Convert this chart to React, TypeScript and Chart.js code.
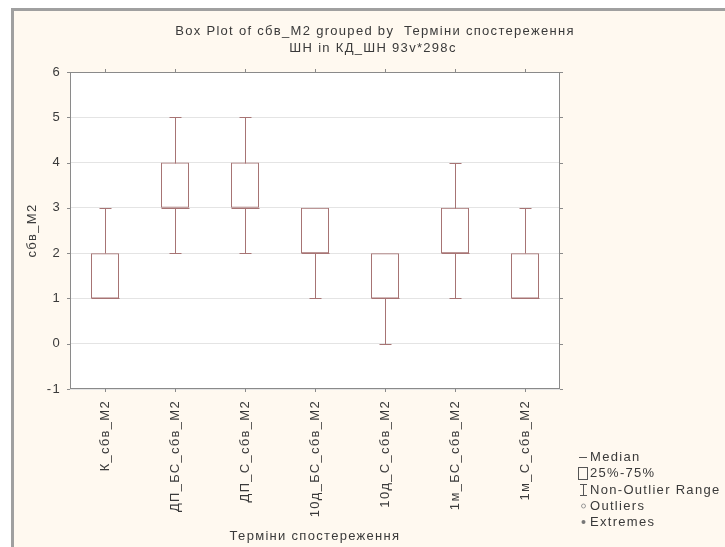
import React, { useEffect, useRef } from "react";
import { Chart, registerables } from "chart.js";

Chart.register(...registerables);

const categories = [
  "К_сбв_М2",
  "ДП_БС_сбв_М2",
  "ДП_С_сбв_М2",
  "10д_БС_сбв_М2",
  "10д_С_сбв_М2",
  "1м_БС_сбв_М2",
  "1м_С_сбв_М2",
];
const q1Values = [1, 3, 3, 2, 1, 2, 1];
const q3Values = [2, 4, 4, 3, 2, 3, 2];
const medianValues = [1, 3, 3, 2, 1, 2, 1];
const minValues = [1, 2, 2, 1, 0, 1, 1];
const maxValues = [3, 5, 5, 3, 2, 4, 3];

const titleLines = ["Box Plot of сбв_М2 grouped by  Терміни спостереження", "ШН in КД_ШН 93v*298c"];
const xTitle = "Терміни спостереження";
const yTitle = "сбв_М2";
const legendItems = ["Median", "25%-75%", "Non-Outlier Range", "Outliers", "Extremes"];

const FONT = "'Liberation Sans', Arial, sans-serif";
const FS = 13;
const SPACING = "1.3px";
const TEXT = "#3a3a3a";
const BOX = "#a77474";

const decorPlugin = {
  id: "decor",
  beforeDraw(chart: any) {
    const ctx = chart.ctx;
    const { width, height, chartArea } = chart;
    ctx.letterSpacing = SPACING;
    ctx.save();
    ctx.fillStyle = "#ffffff";
    ctx.fillRect(0, 0, width, height);
    ctx.fillStyle = "#fff9f0";
    ctx.fillRect(11, 8, width - 11, height - 8);
    ctx.fillStyle = "#a0a0a0";
    ctx.fillRect(11, 8, 3, height - 8);
    ctx.fillRect(11, 8, width - 11, 3);
    ctx.fillStyle = "#ffffff";
    ctx.fillRect(chartArea.left, chartArea.top, chartArea.right - chartArea.left, chartArea.bottom - chartArea.top);
    ctx.restore();
  },
  afterDatasetsDraw(chart: any) {
    const ctx = chart.ctx;
    const xs = chart.scales.x;
    const ys = chart.scales.y;
    ctx.save();
    ctx.strokeStyle = BOX;
    ctx.lineWidth = 1;
    const cap = 6;
    const half = 14;
    categories.forEach((_, i) => {
      const x = Math.round(xs.getPixelForValue(i)) + 0.5;
      const yMax = Math.round(ys.getPixelForValue(maxValues[i])) + 0.5;
      const yMin = Math.round(ys.getPixelForValue(minValues[i])) + 0.5;
      const yQ1 = Math.round(ys.getPixelForValue(q1Values[i])) + 0.5;
      const yQ3 = Math.round(ys.getPixelForValue(q3Values[i])) + 0.5;
      const yMed = Math.round(ys.getPixelForValue(medianValues[i])) + 0.5;
      ctx.beginPath();
      if (maxValues[i] > q3Values[i]) {
        ctx.moveTo(x, yQ3);
        ctx.lineTo(x, yMax);
        ctx.moveTo(x - cap, yMax);
        ctx.lineTo(x + cap, yMax);
      }
      if (minValues[i] < q1Values[i]) {
        ctx.moveTo(x, yQ1);
        ctx.lineTo(x, yMin);
        ctx.moveTo(x - cap, yMin);
        ctx.lineTo(x + cap, yMin);
      }
      ctx.moveTo(x - half, yMed);
      ctx.lineTo(x + half, yMed);
      ctx.stroke();
    });
    ctx.restore();
  },
  afterDraw(chart: any) {
    const ctx = chart.ctx;
    const { chartArea } = chart;
    const xs = chart.scales.x;
    const ys = chart.scales.y;
    ctx.save();
    ctx.letterSpacing = SPACING;
    // plot frame
    ctx.strokeStyle = "#8a8a8a";
    ctx.lineWidth = 1;
    ctx.strokeRect(chartArea.left + 0.5, chartArea.top + 0.5, chartArea.right - chartArea.left - 1, chartArea.bottom - chartArea.top - 1);
    // small ticks
    ctx.beginPath();
    categories.forEach((_, i) => {
      const x = Math.round(xs.getPixelForValue(i)) + 0.5;
      ctx.moveTo(x, chartArea.bottom);
      ctx.lineTo(x, chartArea.bottom + 3);
      ctx.moveTo(x, chartArea.top);
      ctx.lineTo(x, chartArea.top - 3);
    });
    for (let v = -1; v <= 6; v++) {
      const y = Math.round(ys.getPixelForValue(v)) + 0.5;
      ctx.moveTo(chartArea.left - 3, y);
      ctx.lineTo(chartArea.left, y);
      ctx.moveTo(chartArea.right, y);
      ctx.lineTo(chartArea.right + 3, y);
    }
    ctx.stroke();

    // titles
    ctx.fillStyle = TEXT;
    ctx.font = `${FS}px ${FONT}`;
    ctx.textAlign = "center";
    ctx.textBaseline = "middle";
    ctx.fillText(titleLines[0], 375, 31);
    ctx.fillText(titleLines[1], 373, 48);
    ctx.fillText(xTitle, (chartArea.left + chartArea.right) / 2, 536);
    ctx.save();
    ctx.translate(32, (chartArea.top + chartArea.bottom) / 2);
    ctx.rotate(-Math.PI / 2);
    ctx.fillText(yTitle, 0, 0);
    ctx.restore();

    // legend
    const lx = 579;
    const ly = [457, 473, 490, 506, 522];
    ctx.textAlign = "left";
    ctx.fillStyle = TEXT;
    legendItems.forEach((t, i) => ctx.fillText(t, lx + 11, ly[i]));
    ctx.strokeStyle = "#555";
    ctx.beginPath();
    ctx.moveTo(lx, ly[0] + 0.5);
    ctx.lineTo(lx + 8, ly[0] + 0.5);
    ctx.stroke();
    ctx.strokeRect(lx - 0.5, ly[1] - 5.5, 9, 12);
    ctx.beginPath();
    ctx.moveTo(lx + 4.5, ly[2] - 5);
    ctx.lineTo(lx + 4.5, ly[2] + 5);
    ctx.moveTo(lx + 1, ly[2] - 5.5);
    ctx.lineTo(lx + 8, ly[2] - 5.5);
    ctx.moveTo(lx + 1, ly[2] + 5.5);
    ctx.lineTo(lx + 8, ly[2] + 5.5);
    ctx.stroke();
    ctx.strokeStyle = "#999";
    ctx.beginPath();
    ctx.arc(lx + 4.5, ly[3], 2, 0, Math.PI * 2);
    ctx.stroke();
    ctx.fillStyle = "#777";
    ctx.beginPath();
    ctx.arc(lx + 4.5, ly[4], 2, 0, Math.PI * 2);
    ctx.fill();
    ctx.restore();
  },
};

export default function App() {
  const ref = useRef<HTMLCanvasElement>(null);
  useEffect(() => {
    document.body.style.margin = "0";
    const chart = new Chart(ref.current!, {
      type: "bar",
      data: {
        labels: categories,
        datasets: [
          {
            label: "25%-75%",
            data: categories.map((_, i) => [q1Values[i], q3Values[i]]) as any,
            backgroundColor: "rgba(255,255,255,0)",
            borderColor: BOX,
            borderWidth: 1,
            borderSkipped: false,
            categoryPercentage: 1,
            barPercentage: 0.4,
          },
        ],
      },
      options: {
        animation: false,
        responsive: false,
        layout: { padding: { top: 72, right: 165, left: 0, bottom: 0 } },
        plugins: { legend: { display: false }, title: { display: false }, tooltip: { enabled: false } },
        scales: {
          x: {
            grid: { display: false },
            border: { display: false },
            ticks: {
              minRotation: 90,
              maxRotation: 90,
              autoSkip: false,
              padding: 3,
              color: TEXT,
              font: { family: FONT, size: FS },
            },
            afterFit: (s: any) => {
              s.height = 158;
            },
          },
          y: {
            min: -1,
            max: 6,
            grid: { color: "#e4e4e4", drawTicks: false, lineWidth: 1 },
            border: { display: false },
            ticks: {
              stepSize: 1,
              padding: 9,
              color: TEXT,
              font: { family: FONT, size: FS },
            },
            afterFit: (s: any) => {
              s.width = 70;
            },
          },
        },
      },
      plugins: [decorPlugin],
    });
    return () => chart.destroy();
  }, []);
  return (
    <canvas
      ref={ref}
      width={725}
      height={547}
      style={{ position: "absolute", left: 0, top: 0, width: 725, height: 547 }}
    />
  );
}
